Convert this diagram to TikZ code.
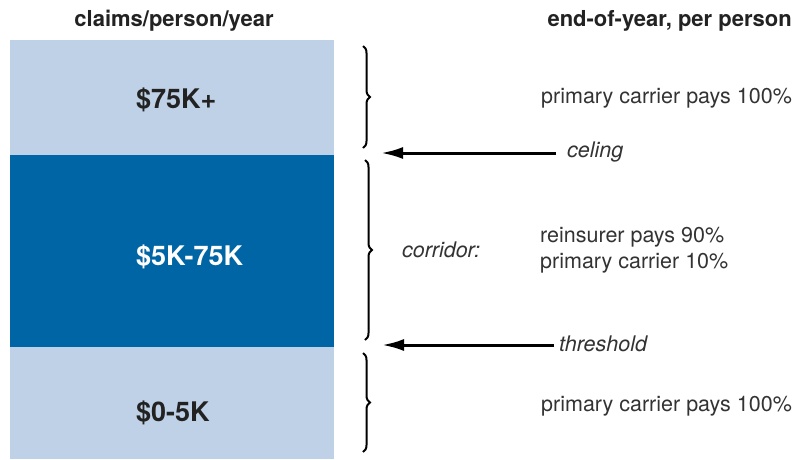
\documentclass[tikz,border=0pt]{standalone}
\usepackage{fontspec}
\setmainfont{TeX Gyre Heros}
\usetikzlibrary{decorations.pathreplacing,arrows.meta}
\definecolor{lightband}{HTML}{BFD1E7}
\definecolor{darkband}{HTML}{0065A4}
\definecolor{ink}{HTML}{222222}
\definecolor{softink}{HTML}{333333}
\tikzset{
  band/.style={draw=none,fill=#1},
  head/.style={font=\fontsize{22}{26}\selectfont\bfseries,text=ink,inner sep=0pt},
  amount/.style={font=\fontsize{27}{32}\selectfont\bfseries,inner sep=0pt,anchor=base west},
  desc/.style={font=\fontsize{21.5}{26}\selectfont,text=softink,inner sep=0pt,anchor=west},
  tag/.style={font=\fontsize{21.5}{26}\selectfont\itshape,text=softink,inner sep=0pt,anchor=west},
  bracebar/.style={decorate,decoration={brace,amplitude=7pt},line width=2pt},
  pointer/.style={line width=3pt,-{Latex[length=22pt,width=12pt]}}
}
\begin{document}
\begin{tikzpicture}[x=1pt,y=-1pt]
\useasboundingbox[fill=white] (0,0) rectangle (800,459);
% bands
\path[band=lightband] (10,40) rectangle (334,155) node[coordinate](topband){};
\path[band=darkband] (10,155) rectangle (334,347) node[coordinate](midband){};
\path[band=lightband] (10,347) rectangle (334,459) node[coordinate](botband){};
% headers
\node[head,anchor=base] (h1) at (174,26) {claims/person/year};
\node[head,anchor=base east] (h2) at (792,26) {end-of-year, per person};
% amounts
\node[amount,text=ink] (a1) at (136,108) {\$75K+};
\node[amount,text=white] (a2) at (136,265) {\$5K-75K};
\node[amount,text=ink] (a3) at (136,421) {\$0-5K};
% braces
\coordinate (b1s) at (363,46);  \coordinate (b1e) at (363,148);
\coordinate (b2s) at (365,160); \coordinate (b2e) at (365,340);
\coordinate (b3s) at (363,353); \coordinate (b3e) at (363,452);
\draw[bracebar] (b1s) -- (b1e);
\draw[bracebar] (b2s) -- (b2e);
\draw[bracebar] (b3s) -- (b3e);
% descriptions
\node[desc] (d1) at (541,98) {primary carrier pays 100\%};
\node[tag] (corr) at (402,250) {corridor:};
\node[desc] (d2a) at (540,237) {reinsurer pays 90\%};
\node[desc] (d2b) at (540,263) {primary carrier 10\%};
\node[desc] (d3) at (541,406) {primary carrier pays 100\%};
% arrows
\node[tag] (celing) at (567,152) {celing};
\node[tag] (thresh) at (559,344) {threshold};
\coordinate (c1) at (556,153); \coordinate (c2) at (381,153);
\coordinate (t1) at (554,345); \coordinate (t2) at (382,345);
\draw[pointer] (c1) -- (c2);
\draw[pointer] (t1) -- (t2);
\end{tikzpicture}
\end{document}
